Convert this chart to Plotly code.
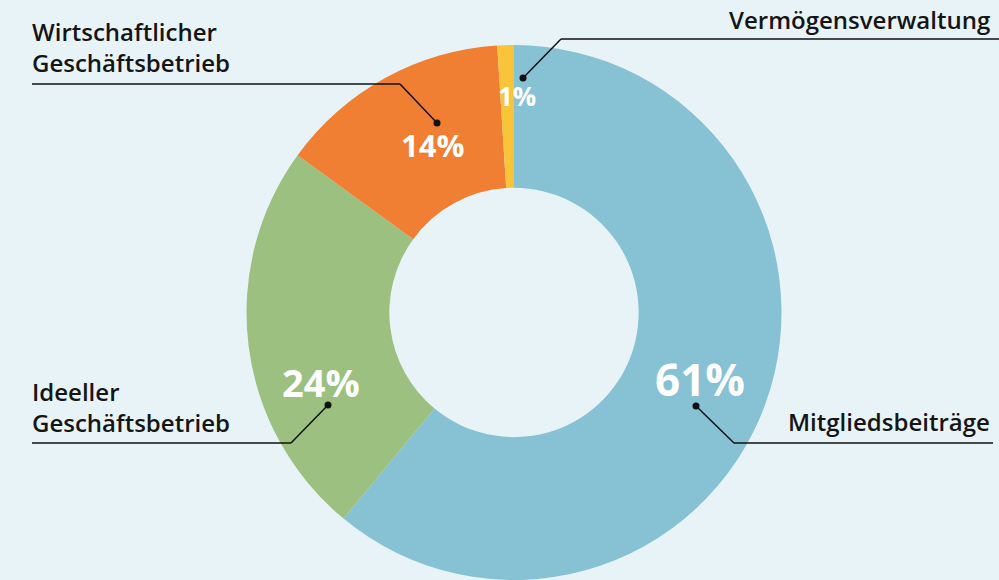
import plotly.graph_objects as go

# ---- data ----
categories = ["Mitgliedsbeiträge", "Ideeller Geschäftsbetrieb",
              "Wirtschaftlicher Geschäftsbetrieb", "Vermögensverwaltung"]
shares = [61, 24, 14, 1]
label_texts = ["Mitgliedsbeiträge", "Ideeller<br>Geschäftsbetrieb",
               "Wirtschaftlicher<br>Geschäftsbetrieb", "Vermögensverwaltung"]
slice_colors = ["#86C1D4", "#9BC07F", "#F07F33", "#FAC43A"]

W, H = 999, 580
BG = "#E8F3F8"

def px(x):
    return x / W

def py(y):
    return 1 - y / H

fig = go.Figure()
fig.add_trace(go.Pie(
    labels=categories, values=shares, sort=False, direction="clockwise",
    rotation=0, hole=0.466,
    marker=dict(colors=slice_colors, line=dict(width=0)),
    textinfo="none", hoverinfo="label+percent", showlegend=False,
    domain=dict(x=[px(514 - 267.5), px(514 + 267.5)], y=[0, py(45)]),
))

# ---- layout for percentage labels & leader lines (pixel positions) ----
pct_pos = [(700, 379), (321, 382), (432, 145), (517, 96)]
pct_size = [44, 38, 31, 26]
dot_pos = [(696, 406), (328, 405), (437, 123), (523, 78)]
elbow_pos = [(734, 443), (291, 443), (400, 84), (561, 39)]
line_end_x = [993, 32, 32, 999]
text_anchor = [("right", 992), ("left", 30), ("left", 30), ("right", 992)]
text_bottom = [440, 441, 81, 38]   # pixel y of the text box bottom

annotations = []
shapes = []
for i, v in enumerate(shares):
    x, y = pct_pos[i]
    annotations.append(dict(
        x=px(x), y=py(y), xref="paper", yref="paper", showarrow=False,
        text=f"{v}%", xanchor="center", yanchor="middle",
        font=dict(family="Open Sans", size=pct_size[i], color="white", weight=700),
    ))
    dx, dy = dot_pos[i]
    ex, ey = elbow_pos[i]
    shapes.append(dict(type="line", xref="paper", yref="paper",
                       x0=px(dx), y0=py(dy), x1=px(ex), y1=py(ey),
                       line=dict(color="#111111", width=1.5)))
    shapes.append(dict(type="line", xref="paper", yref="paper",
                       x0=px(ex), y0=py(ey), x1=px(line_end_x[i]), y1=py(ey),
                       line=dict(color="#111111", width=1.5)))
    shapes.append(dict(type="circle", xref="paper", yref="paper",
                       x0=px(dx - 3.5), y0=py(dy - 3.5), x1=px(dx + 3.5), y1=py(dy + 3.5),
                       fillcolor="#111111", line=dict(width=0)))
    anchor, ax = text_anchor[i]
    annotations.append(dict(
        x=px(ax), y=py(text_bottom[i]), xref="paper", yref="paper", showarrow=False,
        text=label_texts[i], xanchor=anchor, yanchor="bottom", align=anchor,
        font=dict(family="Open Sans", size=24, color="#151515", weight=600),
    ))

fig.update_layout(
    width=W, height=H, margin=dict(l=0, r=0, t=0, b=0),
    paper_bgcolor=BG, plot_bgcolor=BG,
    annotations=annotations, shapes=shapes,
)

fig.write_html("out.html", config={"displayModeBar": False},
               post_script="document.body.style.margin='0px';"
                           "document.body.style.overflow='hidden';"
                           "document.body.style.background='" + BG + "';")
